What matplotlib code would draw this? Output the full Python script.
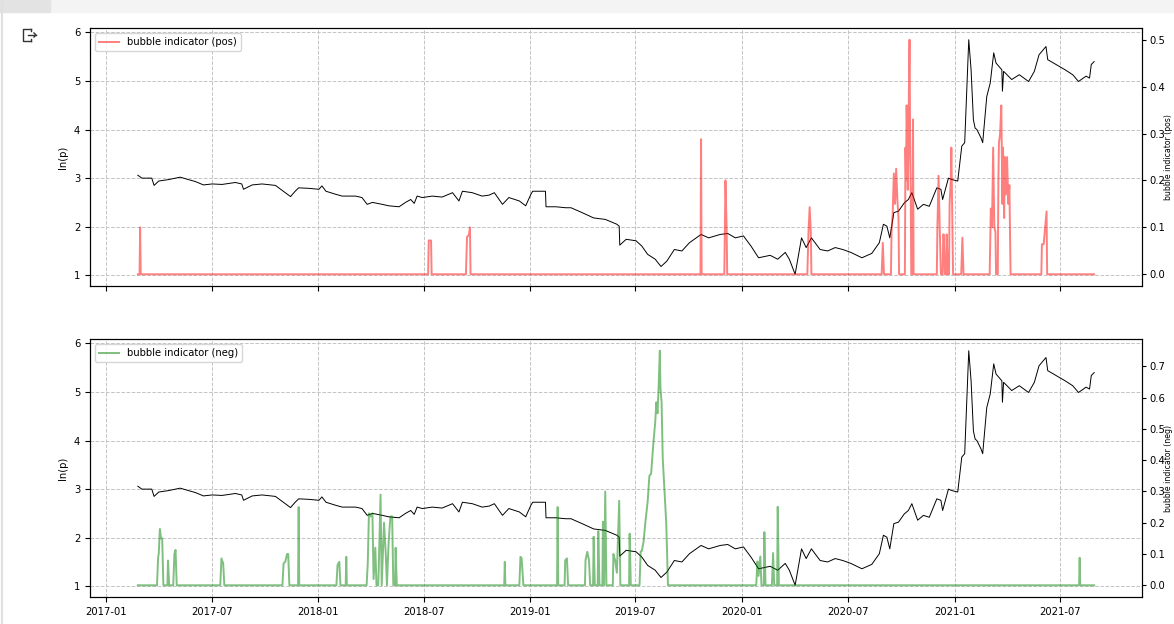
import matplotlib
matplotlib.use("Agg")
import matplotlib.pyplot as plt
import matplotlib.dates as mdates
import pandas as pd
from matplotlib.lines import Line2D
from matplotlib.patches import Rectangle

# log price
price_dates = [
    "2017-02-24", "2017-03-03", "2017-03-20", "2017-03-24", "2017-04-01", "2017-04-18",
    "2017-05-08", "2017-05-22", "2017-06-03", "2017-06-17", "2017-07-02", "2017-07-19",
    "2017-08-11", "2017-08-22", "2017-08-25", "2017-09-09", "2017-09-26", "2017-10-19",
    "2017-11-05", "2017-11-14", "2017-11-22", "2017-11-28", "2017-12-15", "2018-01-02",
    "2018-01-07", "2018-01-14", "2018-01-30", "2018-02-11", "2018-03-06", "2018-03-17",
    "2018-03-26", "2018-04-04", "2018-04-21", "2018-05-02", "2018-05-20", "2018-05-31",
    "2018-06-09", "2018-06-15", "2018-06-20", "2018-06-29", "2018-07-16", "2018-08-02",
    "2018-08-20", "2018-08-31", "2018-09-06", "2018-09-23", "2018-10-10", "2018-10-22",
    "2018-10-31", "2018-11-14", "2018-11-25", "2018-12-13", "2018-12-24", "2019-01-02",
    "2019-01-05", "2019-01-27", "2019-01-28", "2019-02-14", "2019-03-03", "2019-03-12",
    "2019-03-31", "2019-04-20", "2019-05-10", "2019-05-30", "2019-06-03", "2019-06-04",
    "2019-06-15", "2019-07-02", "2019-07-12", "2019-07-22", "2019-08-04", "2019-08-14",
    "2019-08-24", "2019-09-06", "2019-09-19", "2019-10-02", "2019-10-22", "2019-11-04",
    "2019-11-24", "2019-12-07", "2019-12-20", "2020-01-03", "2020-01-16", "2020-01-29",
    "2020-02-18", "2020-03-02", "2020-03-15", "2020-03-22", "2020-04-01", "2020-04-12",
    "2020-04-20", "2020-04-29", "2020-05-14", "2020-05-27", "2020-06-09", "2020-06-22",
    "2020-07-06", "2020-07-25", "2020-08-11", "2020-08-24", "2020-08-31", "2020-09-06",
    "2020-09-11", "2020-09-18", "2020-09-26", "2020-10-06", "2020-10-13", "2020-10-19",
    "2020-10-29", "2020-11-08", "2020-11-18", "2020-12-01", "2020-12-08", "2020-12-11",
    "2020-12-21", "2020-12-27", "2021-01-06", "2021-01-13", "2021-01-18", "2021-01-25",
    "2021-01-29", "2021-02-02", "2021-02-05", "2021-02-08", "2021-02-15", "2021-02-18",
    "2021-02-25", "2021-03-03", "2021-03-09", "2021-03-13", "2021-03-23", "2021-03-24",
    "2021-03-26", "2021-04-09", "2021-04-22", "2021-05-08", "2021-05-18", "2021-05-26",
    "2021-06-07", "2021-06-10", "2021-06-20", "2021-07-10", "2021-07-23", "2021-08-02",
    "2021-08-15", "2021-08-21", "2021-08-24", "2021-08-29",
]
log_price = [
    3.06, 3.00, 3.00, 2.85, 2.94, 2.97,
    3.02, 2.97, 2.93, 2.86, 2.88, 2.87,
    2.91, 2.88, 2.77, 2.86, 2.88, 2.85,
    2.70, 2.62, 2.73, 2.80, 2.79, 2.77,
    2.84, 2.73, 2.67, 2.63, 2.63, 2.60,
    2.46, 2.50, 2.46, 2.43, 2.41, 2.50,
    2.56, 2.48, 2.63, 2.60, 2.63, 2.61,
    2.70, 2.53, 2.73, 2.70, 2.63, 2.65,
    2.70, 2.46, 2.60, 2.53, 2.43, 2.67,
    2.73, 2.73, 2.41, 2.41, 2.39, 2.39,
    2.29, 2.18, 2.15, 2.05, 2.01, 1.62,
    1.74, 1.71, 1.60, 1.43, 1.33, 1.18,
    1.29, 1.53, 1.50, 1.67, 1.84, 1.77,
    1.84, 1.86, 1.77, 1.81, 1.60, 1.36,
    1.41, 1.33, 1.47, 1.33, 1.02, 1.77,
    1.57, 1.77, 1.53, 1.50, 1.57, 1.53,
    1.47, 1.36, 1.45, 1.67, 2.05, 2.01,
    1.77, 2.29, 2.32, 2.49, 2.56, 2.70,
    2.36, 2.46, 2.42, 2.80, 2.77, 2.56,
    3.00, 2.97, 2.94, 3.66, 3.73, 5.85,
    5.23, 4.20, 4.03, 4.00, 3.83, 3.73,
    4.68, 4.96, 5.58, 5.37, 5.23, 4.79,
    5.20, 5.03, 5.13, 4.99, 5.20, 5.54,
    5.71, 5.44, 5.37, 5.23, 5.13, 4.99,
    5.10, 5.06, 5.34, 5.40,
]

# positive bubble indicator
pos_dates = [
    "2017-02-24", "2017-02-27", "2017-02-28", "2017-03-01",
    "2018-07-09", "2018-07-10", "2018-07-14", "2018-07-15",
    "2018-09-12", "2018-09-14", "2018-09-17", "2018-09-19", "2018-09-20",
    "2019-10-21", "2019-10-22", "2019-10-23",
    "2019-12-01", "2019-12-03", "2019-12-05", "2019-12-06",
    "2020-04-22", "2020-04-24", "2020-04-26", "2020-04-28", "2020-04-29",
    "2020-08-28", "2020-08-30", "2020-09-01",
    "2020-09-13", "2020-09-14", "2020-09-16", "2020-09-18", "2020-09-20", "2020-09-22",
    "2020-09-24", "2020-09-26", "2020-09-27",
    "2020-10-07", "2020-10-08", "2020-10-09", "2020-10-10", "2020-10-11", "2020-10-12",
    "2020-10-13", "2020-10-14", "2020-10-15", "2020-10-16", "2020-10-17", "2020-10-18",
    "2020-10-20", "2020-10-21", "2020-10-22",
    "2020-12-01", "2020-12-02", "2020-12-04", "2020-12-06", "2020-12-08",
    "2020-12-11", "2020-12-12", "2020-12-13", "2020-12-15",
    "2020-12-17", "2020-12-18", "2020-12-20",
    "2020-12-22", "2020-12-23", "2020-12-25", "2020-12-26", "2020-12-28", "2020-12-29",
    "2021-01-12", "2021-01-14", "2021-01-16",
    "2021-03-02", "2021-03-04", "2021-03-06", "2021-03-08", "2021-03-10", "2021-03-12",
    "2021-03-13", "2021-03-16", "2021-03-17", "2021-03-18", "2021-03-20", "2021-03-22",
    "2021-03-24", "2021-03-25", "2021-03-27", "2021-03-28", "2021-03-30", "2021-04-01",
    "2021-04-03", "2021-04-05", "2021-04-07",
    "2021-05-30", "2021-05-31", "2021-06-03", "2021-06-08", "2021-06-09",
    "2021-08-29",
]
pos_values = [
    0, 0, 0.10, 0,
    0, 0.072, 0.072, 0,
    0, 0.08, 0.083, 0.10, 0,
    0, 0.288, 0,
    0, 0.20, 0.10, 0,
    0, 0.09, 0.143, 0.09, 0,
    0, 0.067, 0,
    0, 0.09, 0.13, 0.215, 0.15, 0.225,
    0.16, 0.12, 0,
    0, 0.27, 0.20, 0.36, 0.30, 0.18,
    0.26, 0.40, 0.50, 0.30, 0.18, 0,
    0, 0.33, 0,
    0, 0.10, 0.21, 0.10, 0,
    0, 0.085, 0.085, 0,
    0, 0.085, 0,
    0, 0.15, 0.20, 0.27, 0.085, 0,
    0, 0.078, 0,
    0, 0.14, 0.10, 0.27, 0.10, 0.09,
    0, 0, 0.20, 0.28, 0.30, 0.36,
    0.15, 0.27, 0.12, 0.25, 0.17, 0.25,
    0.15, 0.19, 0,
    0, 0.064, 0.064, 0.134, 0,
    0,
]

# negative bubble indicator
neg_dates = [
    "2017-02-24", "2017-03-29", "2017-03-31", "2017-04-01", "2017-04-03", "2017-04-05",
    "2017-04-07", "2017-04-09", "2017-04-16", "2017-04-17", "2017-04-19",
    "2017-04-26", "2017-04-28", "2017-04-30", "2017-05-02",
    "2017-07-16", "2017-07-18", "2017-07-21", "2017-07-23",
    "2017-10-31", "2017-11-02", "2017-11-05", "2017-11-08", "2017-11-10", "2017-11-12",
    "2017-11-27", "2017-11-28", "2017-11-29",
    "2018-02-01", "2018-02-03", "2018-02-06", "2018-02-08",
    "2018-02-17", "2018-02-18", "2018-02-19",
    "2018-03-25", "2018-03-27", "2018-03-29", "2018-04-01", "2018-04-04", "2018-04-06",
    "2018-04-09", "2018-04-11", "2018-04-14", "2018-04-15", "2018-04-18", "2018-04-20",
    "2018-04-24", "2018-04-27", "2018-04-29", "2018-05-02", "2018-05-05", "2018-05-08",
    "2018-05-10", "2018-05-13", "2018-05-14", "2018-05-16",
    "2018-11-17", "2018-11-18", "2018-11-19",
    "2018-12-13", "2018-12-15", "2018-12-17", "2018-12-20",
    "2019-02-16", "2019-02-17", "2019-02-18",
    "2019-03-01", "2019-03-02", "2019-03-05", "2019-03-07",
    "2019-04-05", "2019-04-06", "2019-04-09", "2019-04-12", "2019-04-14",
    "2019-04-19", "2019-04-20", "2019-04-22",
    "2019-04-27", "2019-04-28", "2019-04-30",
    "2019-05-05", "2019-05-06", "2019-05-08", "2019-05-10", "2019-05-12",
    "2019-05-23", "2019-05-24", "2019-05-27", "2019-05-30", "2019-06-03", "2019-06-05",
    "2019-06-20", "2019-06-21", "2019-06-23",
    "2019-07-08", "2019-07-10", "2019-07-12", "2019-07-15", "2019-07-18", "2019-07-22",
    "2019-07-25", "2019-07-28", "2019-08-01", "2019-08-04", "2019-08-06", "2019-08-08",
    "2019-08-10", "2019-08-12", "2019-08-13", "2019-08-15", "2019-08-17", "2019-08-20",
    "2019-08-23", "2019-08-26",
    "2020-01-25", "2020-01-27", "2020-01-29", "2020-02-01", "2020-02-03",
    "2020-02-07", "2020-02-08", "2020-02-10",
    "2020-02-21", "2020-02-23", "2020-02-25",
    "2020-03-01", "2020-03-02", "2020-03-04",
    "2021-08-03", "2021-08-04", "2021-08-05",
    "2021-08-29",
]
neg_values = [
    0, 0, 0.09, 0.10, 0.18, 0.15,
    0.15, 0, 0, 0.079, 0,
    0, 0.10, 0.113, 0,
    0, 0.086, 0.07, 0,
    0, 0.07, 0.075, 0.10, 0.10, 0,
    0, 0.25, 0,
    0, 0.065, 0.075, 0,
    0, 0.091, 0,
    0, 0.07, 0.23, 0.22, 0.23, 0.02,
    0.12, 0, 0, 0.06, 0.29, 0,
    0.20, 0.10, 0, 0.14, 0.22, 0.22,
    0, 0, 0.12, 0,
    0, 0.075, 0,
    0, 0.091, 0.086, 0,
    0, 0.25, 0,
    0, 0.08, 0.086, 0,
    0, 0.08, 0.107, 0.08, 0,
    0, 0.155, 0,
    0, 0.173, 0,
    0, 0.203, 0, 0.30, 0,
    0, 0.10, 0.08, 0.04, 0.27, 0,
    0, 0.165, 0,
    0, 0.108, 0.11, 0.14, 0.20, 0.267,
    0.35, 0.357, 0.458, 0.52, 0.585, 0.55,
    0.638, 0.75, 0.633, 0.585, 0.405, 0.30,
    0.20, 0,
    0, 0.076, 0.03, 0.092, 0,
    0, 0.17, 0,
    0, 0.103, 0,
    0, 0.251, 0,
    0, 0.088, 0,
    0,
]

plt.rcParams['font.size'] = 7.2

W, H = 1174, 624
fig = plt.figure(figsize=(W / 100, H / 100), dpi=100)


def px(x, y):
    return x / W, 1 - y / H


# notebook chrome
fig.patches.append(Rectangle(px(50, 12), 1 - 50 / W, 12 / H, transform=fig.transFigure,
                             color='#f4f4f4', zorder=0))
fig.patches.append(Rectangle(px(0, 12), 50 / W, 12 / H, transform=fig.transFigure,
                             color='#e3e3e3', zorder=0))
fig.add_artist(Line2D([2 / W, 2 / W], [0, 1], transform=fig.transFigure, color='#e0e0e0', lw=1.5))
icon = [[(31, 29), (23, 29), (23, 41), (31, 41)], [(31, 29), (31, 31)], [(31, 39), (31, 41)],
        [(28, 35), (36, 35)], [(34, 33), (36, 35), (34, 37)]]
for seg in icon:
    xs = [p[0] / W for p in seg]
    ys = [1 - p[1] / H for p in seg]
    fig.add_artist(Line2D(xs, ys, transform=fig.transFigure, color='#333333', lw=1.0))

pdates = pd.to_datetime(price_dates)

ax_top = fig.add_axes([90 / W, 1 - 286 / H, 1052 / W, 258 / H])
ax_bot = fig.add_axes([90 / W, 1 - 597 / H, 1052 / W, 258 / H], sharex=ax_top)

panels = [
    (ax_top, pos_dates, pos_values, 'red', 'bubble indicator (pos)'),
    (ax_bot, neg_dates, neg_values, 'green', 'bubble indicator (neg)'),
]
for ax, d, v, c, lab in panels:
    ax.plot(pdates, log_price, color='black', lw=0.7)
    ax.set_ylabel('ln(p)')
    ax.grid(True, linestyle='--', color='#c4c4c4', lw=0.7)
    ax.set_yticks([1, 2, 3, 4, 5, 6])
    ax2 = ax.twinx()
    ax2.plot(pd.to_datetime(d), v, color=c, alpha=0.5, lw=1.4, label=lab)
    ax2.tick_params(axis='y', length=3, pad=2)
    ax2.set_ylabel(lab, fontsize=5.6)
    ax2.yaxis.set_label_coords(1.0255, 0.5)
    ax2.yaxis.label.set_va('center')
    ax2.legend(loc='upper left')

ax_bot.xaxis.set_major_locator(mdates.MonthLocator(bymonth=[1, 7]))
ax_bot.xaxis.set_major_formatter(mdates.DateFormatter('%Y-%m'))
ax_top.tick_params(labelbottom=False)

fig.savefig('out.png', dpi=100)
